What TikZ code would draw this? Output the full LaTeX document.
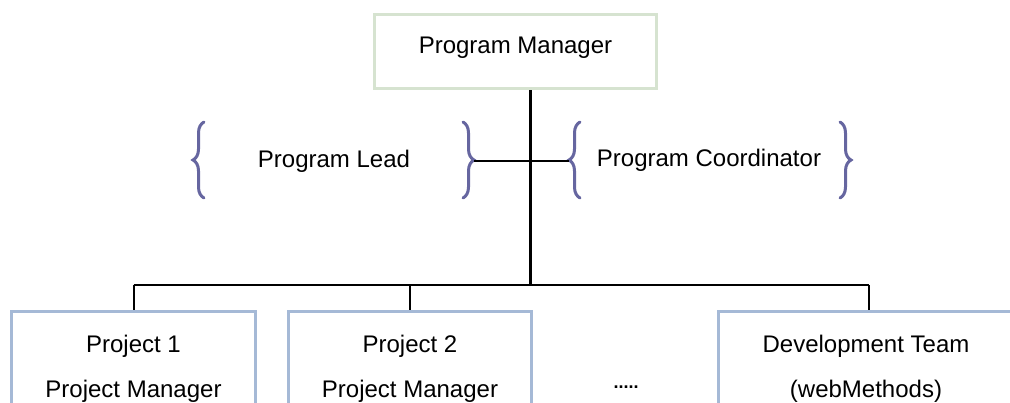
\documentclass[tikz,border=0pt]{standalone}
\usepackage{fontspec}
\setmainfont{Liberation Sans}
\usetikzlibrary{calc,decorations.pathreplacing}
\definecolor{pmgreen}{RGB}{214,227,208}
\definecolor{projblue}{RGB}{165,185,214}
\definecolor{bracecol}{RGB}{102,102,160}

\begin{document}
\begin{tikzpicture}[x=1pt,y=-1pt,
        every node/.style={font=\fontsize{24}{28}\selectfont},
        pmbox/.style={draw=pmgreen,line width=3pt,minimum width=282pt,minimum height=74pt,
            text height=17pt,text depth=13pt,inner sep=0pt},
        projbox/.style={draw=projblue,line width=3pt,minimum height=150pt,inner sep=0pt},
        lbl/.style={anchor=base,inner sep=0pt},
        brc/.style={draw=bracecol,line width=3pt,line cap=round,decorate,
            decoration={brace,amplitude=11pt}},
        link/.style={line width=2pt}]
                \useasboundingbox(0,0)rectangle(1010,402);
                % top box
                \node[pmbox](pm)at(515.5,51.5){Program Manager};
                \coordinate(hub)at(530,285);
                \draw[line width=3pt](hub|-pm.south)--(hub);
                % staff braces
                \node[lbl](lead)at(334,167){Program Lead};
                \node[lbl](coord)at(709,166){Program Coordinator};
                \draw[brc](204,198)--(204,122);
                \draw[brc](463,122)--(463,198);
                \draw[brc](580,198)--(580,122);
                \draw[brc](840,122)--(840,198);
                \coordinate(leadR)at(474,161);
                \coordinate(coordL)at(569,161);
                \draw[link](leadR)--(coordL);
                % projects
                \node[projbox,minimum width=244pt](p1)at(133.5,386.5){};
                \node[projbox,minimum width=243pt](p2)at(410,386.5){};
                \node[projbox,minimum width=301pt](p3)at(869,386.5){};
                \node[lbl](p1a)at(133.5,352){Project 1};
                \node[lbl](p1b)at(133.5,397){Project Manager};
                \node[lbl](p2a)at(410,352){Project 2};
                \node[lbl](p2b)at(410,397){Project Manager};
                \node[lbl](p3a)at(866,352){Development Team};
                \node[lbl](p3b)at(866,397){(webMethods)};
                \node[lbl](more)at(626,388){\fontsize{18}{20}\selectfont\bfseries .....};
                \coordinate(d1)at(p1.north|-hub);
                \coordinate(d2)at(p2.north|-hub);
                \coordinate(d3)at(p3.north|-hub);
                \draw[link](d1)--(d3);
                \draw[link](d1)--(p1.north);
                \draw[link](d2)--(p2.north);
                \draw[link](d3)--(p3.north);
            \end{tikzpicture}
\end{document}
